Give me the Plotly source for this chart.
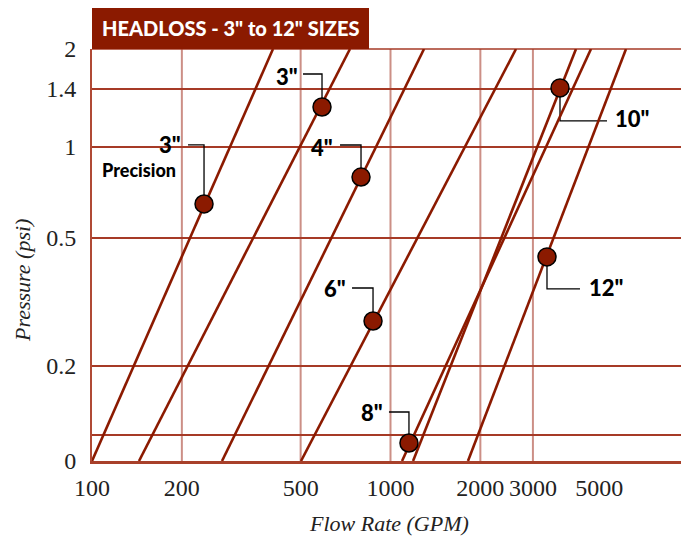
import math
import plotly.graph_objects as go

# ---------------- data ----------------
sizes = ['3" Precision', '3"', '4"', '6"', '8"', '10"', '12"']
# each headloss line: flow (GPM) at the bottom and at the top of the pressure scale
line_pressure = [0.0898, 2.121]
flow_low = [100, 143.7, 272.6, 501.4, 1093, 1190, 1818]
flow_high = [404, 731.5, 1295, 2633, 4695, 4182, 6151]
# labelled points on each line
marker_flow = [237.3, 589.6, 796.6, 873.9, 1153, 3697, 3344]
marker_pressure = [0.6457, 1.359, 0.794, 0.263, 0.1031, 1.573, 0.43]
label_text = ['3"', '3"', '4"', '6"', '8"', '10"', '12"']

x_tick_vals = [100, 200, 500, 1000, 2000, 3000, 5000]
x_tick_text = ["100", "200", "500", "1000", "2000", "3000", "5000"]
x_grid_vals = [200, 500, 1000, 2000, 3000]
y_tick_pos = [0.0898, 0.1096, 0.1862, 0.4973, 1.0, 1.561, 2.121]
y_tick_text = ["0", "", "0.2", "0.5", "1", "1.4", "2"]

# ---------------- style ----------------
RED = "#8b1a00"
HGRID = "#a63a26"
VGRID = "#cc8f86"
SERIF = "Liberation Serif, Times New Roman, serif"
NARROW = "Lato, Roboto, sans-serif"

# label placement: (text xshift, text yshift, anchor, leader path)
label_style = [
    (-21, 59, "right", "M0,0 L0,59 L-16,59"),
    (-22, 31, "right", "M0,0 L0,33 L-19,33"),
    (-26, 30, "right", "M0,0 L0,32 L-21,32"),
    (-25, 32, "right", "M0,0 L0,33 L-21,33"),
    (-24, 31, "right", "M0,0 L0,31 L-20,31"),
    (53, -31, "left", "M0,0 L0,-33 L47,-33"),
    (40, -31, "left", "M0,0 L0,-32 L33,-32"),
]

fig = go.Figure()

for i, name in enumerate(sizes):
    fig.add_trace(go.Scatter(
        x=[flow_low[i], flow_high[i]], y=line_pressure,
        mode="lines", line=dict(color=RED, width=2.6),
        name=name, showlegend=False, hoverinfo="skip", cliponaxis=True))

fig.add_trace(go.Scatter(
    x=marker_flow, y=marker_pressure, mode="markers",
    marker=dict(size=18, color=RED, line=dict(color="black", width=1.5)),
    text=sizes, showlegend=False, cliponaxis=False))

shapes = []
for v in x_grid_vals:
    shapes.append(dict(type="line", xref="x", yref="paper", x0=v, x1=v, y0=0, y1=1,
                       line=dict(color=VGRID, width=2), layer="below"))
# top border line
shapes.append(dict(type="line", xref="paper", yref="paper", x0=0, x1=1, y0=1, y1=1,
                   line=dict(color=HGRID, width=1.5), layer="below"))
# title box
shapes.append(dict(type="rect", xref="paper", yref="paper", x0=0, x1=277 / 597,
                   y0=1, y1=1 + 42 / 412, fillcolor=RED, line=dict(width=0), layer="above"))

annotations = []
for i, (xs, ys, anc, path) in enumerate(label_style):
    shapes.append(dict(type="path", xref="x", yref="y", xsizemode="pixel", ysizemode="pixel",
                       xanchor=marker_flow[i], yanchor=marker_pressure[i], path=path,
                       line=dict(color="black", width=1.3), layer="between"))
    annotations.append(dict(x=math.log10(marker_flow[i]), y=math.log10(marker_pressure[i]),
                            xref="x", yref="y", text=label_text[i], showarrow=False,
                            xanchor=anc, yanchor="middle", xshift=xs, yshift=ys,
                            font=dict(family=NARROW, size=22, color="black", weight=900)))
annotations.append(dict(x=math.log10(marker_flow[0]), y=math.log10(marker_pressure[0]),
                        xref="x", yref="y", text="Precision", showarrow=False,
                        xanchor="right", yanchor="middle", xshift=-26, yshift=34,
                        font=dict(family=NARROW, size=18, color="black", weight=900)))
annotations.append(dict(x=(230.5 - 92) / 597, y=1 + 21 / 412, xref="paper", yref="paper",
                        text='HEADLOSS - 3" to 12" SIZES', showarrow=False,
                        xanchor="center", yanchor="middle",
                        font=dict(family=NARROW, size=20, color="white", weight=900)))
annotations.append(dict(x=(22 - 92) / 597, y=(461 - 281) / 412, xref="paper", yref="paper",
                        text="Pressure (psi)", showarrow=False, textangle=-90,
                        xanchor="center", yanchor="middle",
                        font=dict(family=SERIF, size=22, color="#222", style="italic")))
annotations.append(dict(x=(389 - 92) / 597, y=(461 - 523) / 412, xref="paper", yref="paper",
                        text="Flow Rate (GPM)", showarrow=False,
                        xanchor="center", yanchor="middle",
                        font=dict(family=SERIF, size=22, color="#222", style="italic")))

# the page body adds an 8px margin, so the figure is sized to fill the window exactly
fig.update_layout(
    width=681, height=532,
    margin=dict(l=84, r=0, t=41, b=79),
    paper_bgcolor="white", plot_bgcolor="white",
    shapes=shapes, annotations=annotations,
    xaxis=dict(type="log", range=[2, 4], tickvals=x_tick_vals, ticktext=x_tick_text,
               showgrid=False, zeroline=False, showline=True, linecolor="#a8402a", linewidth=2.5,
               ticks="", ticklabelstandoff=3,
               tickfont=dict(family=SERIF, size=24, color="#222")),
    yaxis=dict(type="log", range=[math.log10(y_tick_pos[0]), math.log10(y_tick_pos[-1])],
               tickvals=y_tick_pos, ticktext=y_tick_text,
               showgrid=True, gridcolor=HGRID, gridwidth=1.5, zeroline=False,
               showline=True, linecolor="#b04a35", linewidth=2,
               ticks="", ticklabelstandoff=9,
               tickfont=dict(family=SERIF, size=24, color="#222")),
)

fig.write_html("out.html")
